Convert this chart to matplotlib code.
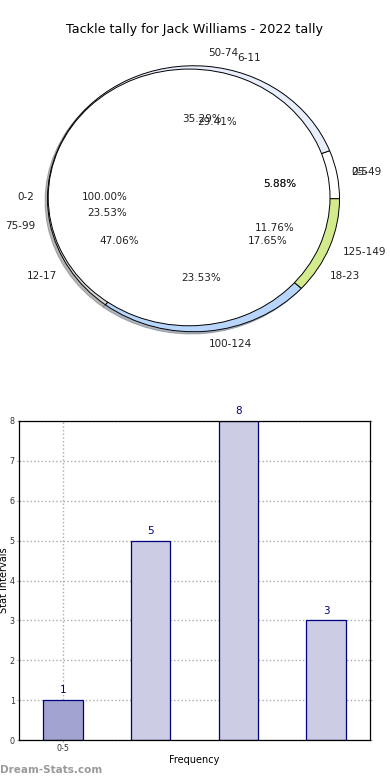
"""Tackle tally pie and bar chart."""
import matplotlib
matplotlib.use("Agg")
import matplotlib.pyplot as plt

# pie 1: the bar data as shares
bar_labels = ["0-5", "6-11", "12-17", "18-23"]
bar_counts = [1, 5, 8, 3]

# pie 2: the stat intervals
stat_labels = ["25-49", "50-74", "75-99", "100-124", "125-149"]
stat_counts = [1, 6, 4, 4, 2]
stat_colors = ["#ffffff", "#e8eefc", "#d8d8d8", "#b8d6fb", "#d3ea8d"]

# pie 3: a single full slice
full_labels = ["0-2"]
full_counts = [1]

title = "Tackle tally for Jack Williams - 2022 tally"

fig = plt.figure(figsize=(3.9, 7.8), dpi=100)
fig.text(0.5, 1 - 30 / 780, title, ha="center", va="center", fontsize=9.2)

# pie axes, left free of equal aspect so the pie is a bit oval
ax1 = fig.add_axes([11 / 390, 1 - 365 / 780, 365 / 390, 332.5 / 780])
wedge_style = {"edgecolor": "black", "linewidth": 0.7}
text_style = {"fontsize": 7.5, "color": "#222222"}
shadow_style = {"ox": -0.012, "oy": -0.012, "shade": 0.5}

ax1.pie(
    bar_counts,
    labels=bar_labels,
    autopct="%.2f%%",
    startangle=0,
    colors=["white"] * len(bar_counts),
    wedgeprops={"edgecolor": "none"},
    textprops=text_style,
)
ax1.pie(
    stat_counts,
    labels=stat_labels,
    autopct="%.2f%%",
    startangle=0,
    colors=stat_colors,
    shadow=shadow_style,
    wedgeprops=wedge_style,
    textprops=text_style,
)
ax1.pie(
    full_counts,
    labels=full_labels,
    autopct="%.2f%%",
    startangle=0,
    colors=["white"],
    radius=0.965,
    center=(-0.03, 0.01),
    wedgeprops=wedge_style,
    textprops=text_style,
)
ax1.set_aspect("auto")
ax1.set_xlim(-1.25, 1.25)
ax1.set_ylim(-1.25, 1.25)
ax1.axis("off")

# bar axes
ax2 = fig.add_axes([19 / 390, 40 / 780, 351 / 390, 319 / 780])
x = list(range(len(bar_counts)))
bar_colors = ["#a3a3cf"] + ["#ccccE4"] * (len(bar_counts) - 1)
ax2.bar(x, bar_counts, width=0.45, color=bar_colors, edgecolor="#000080",
        linewidth=0.9, zorder=2)
for xi, v in zip(x, bar_counts):
    ax2.text(xi, v + 0.12, str(v), ha="center", va="bottom", fontsize=7.5,
             color="#000080", clip_on=False)

ax2.set_xlim(-0.5, 3.5)
ax2.set_ylim(0, 8)
ax2.set_yticks(range(0, 9))
ax2.set_xticks([0])
ax2.set_xticklabels([bar_labels[0]])
ax2.tick_params(labelsize=5.8, colors="#333333", length=3, width=0.8,
                right=True, direction="inout", pad=1.5)
ax2.tick_params(axis="y", color="#aaaaaa")
ax2.tick_params(axis="x", color="#aaaaaa")
ax2.grid(True, linestyle=":", color="#aaaaaa", linewidth=1.0, zorder=0)
ax2.set_axisbelow(True)
for spine in ax2.spines.values():
    spine.set_linewidth(0.9)

fig.text(4 / 390, 1 - 580 / 780, "Stat Intervals", rotation=90,
         ha="center", va="center", fontsize=7)
fig.text(194 / 390, 1 - 760 / 780, "Frequency", ha="center", va="center",
         fontsize=7)
fig.text(0.0, 1 - 770 / 780, "Dream-Stats.com", ha="left", va="center",
         fontsize=7.5, fontweight="bold", color="#9a9a9a")

fig.savefig("out.png", dpi=100)
